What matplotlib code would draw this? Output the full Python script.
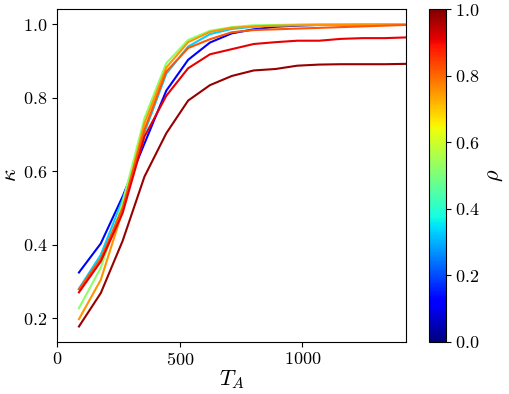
import numpy as np
import matplotlib
matplotlib.use("Agg")
import matplotlib.pyplot as plt
from matplotlib import cm
from matplotlib.colors import Normalize

plt.rcParams['font.family'] = 'serif'
plt.rcParams['font.serif'] = ['cmr10']
plt.rcParams['mathtext.fontset'] = 'cm'
plt.rcParams['axes.formatter.use_mathtext'] = True

T_A = [89, 178, 267, 356, 445, 534, 623, 712, 801, 890, 979, 1068, 1157, 1246, 1335, 1424]

rho = [0.12, 0.33, 0.52, 0.75, 0.82, 0.91, 0.98]

kappa_blue = [0.324, 0.403, 0.531, 0.675, 0.819, 0.903, 0.950, 0.975, 0.986, 0.993, 0.996, 0.998, 0.999, 0.999, 1.000, 1.000]
kappa_cyan = [0.280, 0.372, 0.522, 0.705, 0.865, 0.939, 0.973, 0.987, 0.993, 0.996, 0.998, 0.999, 0.999, 1.000, 1.000, 1.000]
kappa_green = [0.227, 0.337, 0.514, 0.744, 0.894, 0.957, 0.982, 0.992, 0.997, 0.998, 0.999, 1.000, 1.000, 1.000, 1.000, 1.000]
kappa_orange = [0.197, 0.304, 0.492, 0.730, 0.882, 0.951, 0.979, 0.990, 0.994, 0.996, 0.997, 0.998, 0.998, 0.999, 0.999, 0.999]
kappa_orangered = [0.278, 0.362, 0.500, 0.712, 0.871, 0.935, 0.959, 0.978, 0.984, 0.986, 0.988, 0.990, 0.992, 0.994, 0.996, 0.998]
kappa_red = [0.270, 0.354, 0.486, 0.694, 0.805, 0.880, 0.918, 0.932, 0.946, 0.951, 0.955, 0.955, 0.960, 0.962, 0.962, 0.964]
kappa_darkred = [0.177, 0.268, 0.410, 0.585, 0.703, 0.792, 0.834, 0.859, 0.874, 0.878, 0.887, 0.890, 0.891, 0.891, 0.891, 0.892]

series = [kappa_blue, kappa_cyan, kappa_green, kappa_orange, kappa_orangered, kappa_red, kappa_darkred]

fig = plt.figure(figsize=(5.10, 3.94), dpi=100)
ax = fig.add_axes([0.112, 0.133, 0.685, 0.844])
cax = fig.add_axes([0.842, 0.133, 0.032, 0.844])

cmap = plt.get_cmap('jet')
norm = Normalize(0, 1)
for r, k in zip(rho, series):
    ax.plot(T_A, k, color=cmap(norm(r)), lw=1.5)

ax.set_xlim(0, T_A[-1])
ax.set_xticks([0, 500, 1000])
ax.set_yticks([0.2, 0.4, 0.6, 0.8, 1.0])
ax.set_xticklabels(['$0$', '$500$', '$1000$'])
ax.set_yticklabels(['$0.2$', '$0.4$', '$0.6$', '$0.8$', '$1.0$'])
ax.tick_params(labelsize=13)
ax.set_xlabel('$T_A$', fontsize=16, labelpad=0)
ax.set_ylabel(r'$\kappa$', fontsize=16, labelpad=2)

sm = cm.ScalarMappable(norm=norm, cmap=cmap)
cb = fig.colorbar(sm, cax=cax)
cb.set_ticks([0.0, 0.2, 0.4, 0.6, 0.8, 1.0])
cb.set_ticklabels(['$0.0$', '$0.2$', '$0.4$', '$0.6$', '$0.8$', '$1.0$'])
cb.ax.tick_params(labelsize=13)
cb.set_label(r'$\rho$', fontsize=16, labelpad=4)

fig.savefig('out.png', dpi=100)
